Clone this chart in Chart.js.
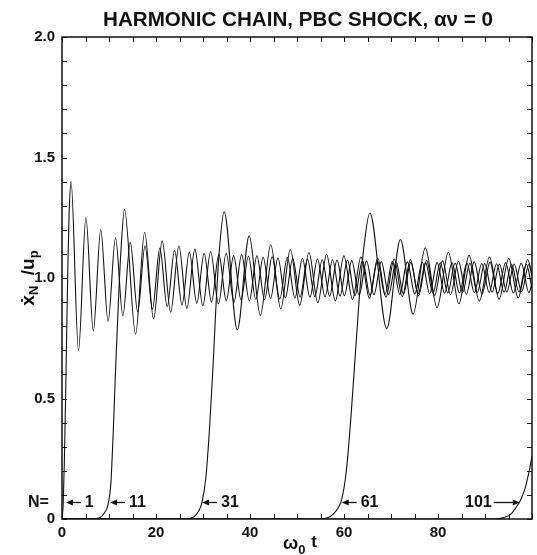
<!DOCTYPE html>
<html>
<head>
<meta charset="utf-8">
<script src="https://cdn.jsdelivr.net/npm/chart.js@4/dist/chart.umd.min.js"></script>
<style>
  html, body { margin: 0; padding: 0; background: #fff; }
</style>
</head>
<body>
<canvas id="chart" width="537" height="555"></canvas>
<script>
const ink = '#111'
const titleText = 'HARMONIC CHAIN, PBC SHOCK, \u03b1\u03bd = 0'

// velocity of particle N, pairs of [omega0 t, xdot_N / u_p]
const chainN1 = [[0,0],[0.25,0.06],[0.5,0.235],[0.75,0.488],[1,0.776],[1.25,1.048],[1.5,1.26],
  [1.92,1.40],[3.51,0.70],[5.09,1.25],[6.66,0.78],[8.24,1.20],[9.81,0.82],[11.38,1.167],[12.95,0.843],
  [14.53,1.148],[16.10,0.859],[17.67,1.134],[19.24,0.871],[20.81,1.124],[22.38,0.881],[23.95,1.115],[25.53,0.888],
  [27.10,1.108],[28.67,0.895],[30.24,1.103],[31.81,0.900],[33.38,1.098],[34.95,0.905],[36.52,1.093],[38.09,0.909],
  [39.66,1.090],[41.23,0.912],[42.80,1.086],[44.37,0.915],[45.95,1.083],[47.52,0.918],[49.09,1.081],[50.66,0.921],
  [52.23,1.078],[53.80,0.923],[55.37,1.076],[56.94,0.925],[58.51,1.074],[60.08,0.927],[61.65,1.072],[63.22,0.929],
  [64.80,1.070],[66.37,0.931],[67.94,1.068],[69.51,0.932],[71.08,1.067],[72.65,0.934],[74.22,1.065],[75.79,0.935],
  [77.36,1.064],[78.93,0.937],[80.50,1.063],[82.07,0.938],[83.65,1.062],[85.22,0.939],[86.79,1.061],[88.36,0.940],
  [89.93,1.060],[91.50,0.941],[93.07,1.058],[94.64,0.942],[96.21,1.058],[97.78,0.943],[99.35,1.057],[100,1.015]]

const chainN11 = [[0,0],[6.5,0],[8,0.005],[9,0.025],[9.8,0.06],[10.4,0.15],[10.9,0.36],[11.4,0.62],[12,0.9],[12.5,1.1],
  [13.3,1.285],[15.65,0.767],[17.59,1.19],[19.48,0.83],[21.32,1.154],[23.12,0.858],[24.87,1.133],[26.57,0.874],
  [28.27,1.120],[29.96,0.885],[31.62,1.110],[33.29,0.893],[34.94,1.103],[36.58,0.900],[38.22,1.097],[39.85,0.905],
  [41.47,1.092],[43.10,0.910],[44.71,1.088],[46.33,0.913],[47.94,1.085],[49.55,0.917],[51.15,1.082],[52.75,0.920],
  [54.36,1.079],[55.96,0.922],[57.56,1.076],[59.15,0.925],[60.75,1.074],[62.34,0.927],[63.93,1.072],[65.53,0.929],
  [67.12,1.070],[68.71,0.931],[70.30,1.069],[71.88,0.932],[73.47,1.067],[75.06,0.934],[76.65,1.065],[78.23,0.935],
  [79.82,1.064],[81.40,0.937],[82.98,1.063],[84.56,0.938],[86.15,1.062],[87.73,0.939],[89.31,1.060],[90.89,0.940],
  [92.47,1.059],[94.06,0.941],[95.64,1.058],[97.22,0.942],[98.80,1.057],[100,0.958]]

const chainN31 = [[0,0],[26.5,0],[28,0.008],[29,0.03],[29.8,0.07],[30.6,0.17],[31.4,0.38],[32.1,0.62],[32.8,0.9],[33.5,1.12],
  [34.5,1.275],[37.3,0.785],[39.82,1.175],[42.21,0.845],[44.41,1.138],[46.54,0.872],[48.58,1.118],[50.58,0.887],
  [52.54,1.106],[54.43,0.897],[56.29,1.098],[58.15,0.905],[59.98,1.092],[61.81,0.911],[63.61,1.087],[65.40,0.916],
  [67.17,1.082],[68.93,0.920],[70.67,1.079],[72.40,0.923],[74.13,1.076],[75.85,0.926],[77.57,1.073],[79.27,0.928],
  [80.97,1.071],[82.66,0.931],[84.35,1.069],[86.03,0.933],[87.71,1.067],[89.38,0.934],[91.06,1.065],[92.72,0.936],
  [94.38,1.063],[96.04,0.938],[97.70,1.062],[99.35,0.939],[100,0.980]]

const chainN61 = [[0,0],[55,0],[56.5,0.005],[57.7,0.02],[58.7,0.045],[59.5,0.08],[60.5,0.2],[61.5,0.43],[62.4,0.68],
  [63.3,0.93],[64.3,1.14],[65.5,1.27],[69.1,0.79],[72.0,1.16],[74.7,0.85],[77.3,1.125],[79.8,0.877],[82.2,1.107],
  [84.45,0.893],[86.6,1.094],[88.8,0.904],[90.95,1.087],[93.0,0.912],[95.05,1.081],[97.06,0.918],[99.08,1.077],[100,1.008]]

const chainN101 = [[0,0],[92,0],[94,0.006],[95.5,0.02],[96.5,0.045],[97.5,0.076],[98.5,0.125],[99.3,0.19],[100,0.26]]

const curves = [chainN1, chainN11, chainN31, chainN61, chainN101]

// labels along the bottom: N value, where the arrow tip sits, arrow direction
const annLabels = ['1', '11', '31', '61', '101']
const annTips = [0.6, 10.0, 29.6, 59.3, 97.6]
const annDirs = [-1, -1, -1, -1, 1]
const annLevel = 0.07

const xTicks = [0, 20, 40, 60, 80]
const yTicks = ['0', '0.5', '1.0', '1.5', '2.0']

const font = '"Liberation Sans", Arial, sans-serif'

function arrow(ctx, x1, x2, y) {
  const d = Math.sign(x2 - x1)
  ctx.beginPath()
  ctx.moveTo(x1, y); ctx.lineTo(x2 - d * 4, y)
  ctx.stroke()
  ctx.beginPath()
  ctx.moveTo(x2, y); ctx.lineTo(x2 - d * 7, y - 3); ctx.lineTo(x2 - d * 7, y + 3)
  ctx.closePath()
  ctx.fill()
}

const decor = {
  id: 'decor',
  afterDraw(chart) {
    const { ctx, chartArea: a, scales: { x, y } } = chart
    ctx.save()
    ctx.strokeStyle = ink
    ctx.fillStyle = ink
    ctx.lineWidth = 1.5
    ctx.strokeRect(a.left, a.top, a.right - a.left, a.bottom - a.top)

    ctx.lineWidth = 1
    ctx.beginPath()
    for (let t = 0; t <= 100; t += 5) {
      const px = Math.round(x.getPixelForValue(t)) + 0.5
      ctx.moveTo(px, a.bottom); ctx.lineTo(px, a.bottom - 5)
      ctx.moveTo(px, a.top); ctx.lineTo(px, a.top + 5)
    }
    for (let i = 0; i <= 20; i++) {
      const py = Math.round(y.getPixelForValue(i / 10)) + 0.5
      ctx.moveTo(a.left, py); ctx.lineTo(a.left + 5, py)
      ctx.moveTo(a.right, py); ctx.lineTo(a.right - 5, py)
    }
    ctx.stroke()

    // title, stretched to the width of the lettering in the figure
    ctx.font = 'bold 17px ' + font
    const w = ctx.measureText(titleText).width
    ctx.font = 'bold ' + (17 * 390 / w).toFixed(2) + 'px ' + font
    ctx.textAlign = 'center'
    ctx.textBaseline = 'alphabetic'
    ctx.fillText(titleText, 298, 26)

    // x axis title: omega_0 t
    ctx.textAlign = 'left'
    ctx.font = 'bold 18px ' + font
    const wo = ctx.measureText('\u03c9').width
    ctx.fillText('\u03c9', 283, 549)
    ctx.font = 'bold 13px ' + font
    ctx.fillText('0', 283 + wo, 554)
    ctx.font = 'bold 17px ' + font
    ctx.fillText('t', 283 + wo + 13, 547)

    // y axis title: xdot_N / u_p
    ctx.save()
    ctx.translate(28, 278)
    ctx.rotate(-Math.PI / 2)
    const parts = [['\u1e8b', 19, 0], ['N', 13, 4], ['  /', 19, 0], ['u', 19, 0], ['p', 13, 4]]
    let total = 0
    parts.forEach(p => { ctx.font = 'bold ' + p[1] + 'px ' + font; total += ctx.measureText(p[0]).width })
    let cx = -total / 2
    parts.forEach(p => {
      ctx.font = 'bold ' + p[1] + 'px ' + font
      ctx.fillText(p[0], cx, 6 + p[2])
      cx += ctx.measureText(p[0]).width
    })
    ctx.restore()

    // N = labels with arrows
    ctx.font = 'bold 16px ' + font
    ctx.textBaseline = 'middle'
    const ly = Math.round(y.getPixelForValue(annLevel)) + 0.5
    ctx.textAlign = 'left'
    ctx.fillText('N=', 28, ly)
    ctx.lineWidth = 1.3
    annLabels.forEach((lab, i) => {
      const tip = x.getPixelForValue(annTips[i])
      if (annDirs[i] < 0) {
        arrow(ctx, tip + 16, tip + 1, ly)
        ctx.textAlign = 'left'
        ctx.fillText(lab, tip + 20, ly)
      } else {
        arrow(ctx, tip - 27, tip - 1, ly)
        ctx.textAlign = 'right'
        ctx.fillText(lab, tip - 29, ly)
      }
    })
    ctx.restore()
  }
}

new Chart(document.getElementById('chart'), {
  type: 'line',
  data: {
    datasets: curves.map(c => ({
      data: c.map(p => ({ x: p[0], y: p[1] })),
      borderColor: ink,
      borderWidth: 1.1,
      pointRadius: 0,
      fill: false,
      cubicInterpolationMode: 'monotone'
    }))
  },
  options: {
    responsive: false,
    animation: false,
    devicePixelRatio: 1,
    layout: { padding: { top: 37, right: 2, left: 0, bottom: 0 } },
    plugins: { legend: { display: false }, tooltip: { enabled: false } },
    scales: {
      x: {
        type: 'linear', min: 0, max: 100,
        grid: { display: false, drawTicks: false, tickLength: 0 },
        border: { display: false },
        ticks: {
          stepSize: 20, padding: 5, color: ink, maxRotation: 0,
          font: { family: font, size: 15, weight: 'bold' },
          callback: v => xTicks.includes(v) ? String(v) : ''
        },
        afterFit: s => { s.height = 36 }
      },
      y: {
        type: 'linear', min: 0, max: 2,
        grid: { display: false, drawTicks: false, tickLength: 0 },
        border: { display: false },
        ticks: {
          stepSize: 0.5, padding: 7, color: ink,
          font: { family: font, size: 15, weight: 'bold' },
          callback: v => yTicks[Math.round(v * 2)]
        },
        afterFit: s => { s.width = 62 }
      }
    }
  },
  plugins: [decor]
})
</script>
</body>
</html>
